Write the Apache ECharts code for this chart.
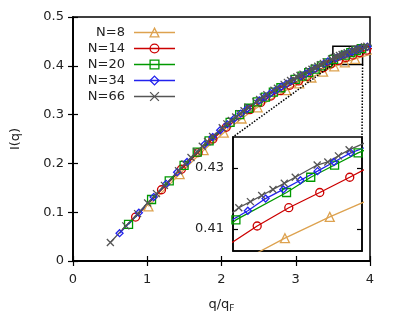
<!DOCTYPE html>
<html><head><meta charset="utf-8">
<script src="https://cdn.jsdelivr.net/npm/echarts@6/dist/echarts.min.js"></script>
<style>html,body{margin:0;padding:0;background:#fff}#c{width:395px;height:327px}</style>
</head><body><div id="c"></div>
<script>
// ---- data ----
const seriesNames = ['N=8', 'N=14', 'N=20', 'N=34', 'N=66'];

const q8  = [1.016,1.436,1.759,2.031,2.271,2.487,2.872,3.047,3.211,3.368,3.518,3.661,3.800,4.062];
const i8  = [0.112,0.178,0.227,0.263,0.292,0.315,0.350,0.364,0.376,0.388,0.399,0.407,0.414,0.426];

const q14 = [0.843,1.192,1.460,1.685,1.884,2.064,2.383,2.528,2.665,2.795,2.919,3.038,3.153,3.371,3.474,3.575,3.673,3.769,3.862,3.953,4.128];
const i14 = [0.090,0.146,0.188,0.222,0.250,0.274,0.310,0.325,0.338,0.349,0.360,0.369,0.378,0.396,0.404,0.411,0.417,0.422,0.427,0.432,0.440];

const q20 = [0.748,1.058,1.296,1.496,1.673,1.833,2.116,2.245,2.366,2.482,2.592,2.698,2.800,2.993,3.085,3.174,3.261,3.346,3.429,3.509,3.666,3.741,3.815,3.888,4.029];
const i20 = [0.075,0.126,0.164,0.196,0.223,0.246,0.284,0.300,0.313,0.326,0.336,0.346,0.355,0.372,0.379,0.386,0.393,0.400,0.406,0.413,0.422,0.427,0.431,0.435,0.441];

const q34 = [0.627,0.887,1.086,1.254,1.402,1.536,1.773,1.881,1.982,2.079,2.172,2.260,2.346,2.508,2.585,2.660,2.733,2.804,2.873,2.941,3.071,3.135,3.197,3.258,3.376,3.434,3.546,3.601,3.656,3.709,3.762,3.813,3.865,3.965,4.014];
const i34 = [0.057,0.099,0.131,0.158,0.182,0.203,0.239,0.254,0.268,0.280,0.292,0.302,0.312,0.329,0.336,0.344,0.350,0.357,0.363,0.369,0.379,0.384,0.389,0.394,0.404,0.409,0.416,0.420,0.423,0.426,0.429,0.432,0.435,0.439,0.442];

const q66 = [0.503,0.711,0.870,1.005,1.124,1.231,1.421,1.508,1.589,1.667,1.741,1.812,1.880,2.010,2.072,2.132,2.191,2.248,2.303,2.357,2.462,2.513,2.563,2.611,2.706,2.753,2.843,2.887,2.930,2.973,3.015,3.057,3.098,3.178,3.218,3.257,3.296,3.334,3.371,3.409,3.482,3.518,3.554,3.589,3.624,3.659,3.693,3.761,3.794,3.827,3.860,3.925,3.957,4.020];
const i66 = [0.038,0.072,0.097,0.119,0.138,0.155,0.185,0.199,0.212,0.224,0.235,0.245,0.255,0.273,0.281,0.288,0.295,0.302,0.308,0.315,0.326,0.331,0.336,0.341,0.350,0.354,0.362,0.366,0.370,0.373,0.377,0.380,0.383,0.390,0.393,0.396,0.399,0.402,0.405,0.408,0.414,0.417,0.419,0.421,0.423,0.425,0.427,0.431,0.432,0.434,0.436,0.439,0.440,0.443];

const xRange = [0, 4];
const yRange = [0, 0.5];
const insetXRange = [3.5, 3.9];
const insetYRange = [0.4028, 0.4402];
const insetYTicks = [0.41, 0.43];

// ---- styling ----
const FONT = 'DejaVu Sans';
const colors = ['#dda24f', '#cc0000', '#009900', '#2222ee', '#555555'];
const symbols = ['triangle', 'circle', 'rect', 'diamond', 'path://M0,0L10,10M0,10L10,0'];
const sizes = [9, 8, 8, 7, 7];

const qs = [q8, q14, q20, q34, q66];
const is = [i8, i14, i20, i34, i66];

const INSET = {left: 233, top: 137, width: 129, height: 114};

function pairs(q, v) { return q.map((x, k) => [x, v[k]]); }

const series = [];
[0, 1].forEach(function (g) {
  seriesNames.forEach(function (name, k) {
    const s = {
      type: 'line', name: name,
      data: pairs(qs[k], is[k]),
      xAxisIndex: g === 0 ? 0 : 2,
      yAxisIndex: g === 0 ? 0 : 2,
      symbol: symbols[k], symbolSize: sizes[k],
      showSymbol: true,
      lineStyle: {color: colors[k], width: 1.3},
      itemStyle: {color: 'rgba(0,0,0,0)', borderColor: colors[k], borderWidth: 1.3},
      emphasis: {disabled: true},
      animation: false,
      z: g === 0 ? 2 : 8
    };
    if (g === 0 && k === 4) {
      s.markArea = {
        silent: true,
        itemStyle: {color: 'rgba(0,0,0,0)', borderColor: '#000', borderWidth: 1.5},
        data: [[{coord: [insetXRange[0], insetYRange[1]]}, {coord: [insetXRange[1], insetYRange[0]]}]]
      };
      s.markLine = {
        silent: true, symbol: ['none', 'none'], label: {show: false},
        lineStyle: {type: 'dotted', color: '#000', width: 1.5},
        data: [
          [{coord: [insetXRange[0], insetYRange[0]]}, {x: INSET.left, y: INSET.top}],
          [{coord: [insetXRange[1], insetYRange[0]]}, {x: INSET.left + INSET.width, y: INSET.top}]
        ]
      };
    }
    series.push(s);
  });
});

const axisLine = {show: true, lineStyle: {color: '#000', width: 1.5}};
const tick = {show: true, inside: true, length: 5, lineStyle: {color: '#000', width: 1.2}};
const label = {color: '#222', fontSize: 13, fontFamily: FONT};

const option = {
  animation: false,
  backgroundColor: '#fff',
  grid: [
    {left: 73, top: 17, width: 297, height: 244, show: true, borderColor: '#000', borderWidth: 1.5, backgroundColor: 'rgba(0,0,0,0)'},
    {left: INSET.left, top: INSET.top, width: INSET.width, height: INSET.height, show: true,
     backgroundColor: '#fff', borderColor: '#000', borderWidth: 1.5, z: 5}
  ],
  legend: {
    data: seriesNames, orient: 'vertical', left: 85, top: 26, align: 'right', padding: 0,
    itemWidth: 41, itemHeight: 11, itemGap: 3,
    selectedMode: false,
    textStyle: {fontSize: 13, color: '#222', fontFamily: FONT, width: 40, align: 'right', lineHeight: 12, padding: [0, 4, 0, 0]},
    itemStyle: {borderWidth: 1.3},
    lineStyle: {width: 1.3}
  },
  xAxis: [
    {gridIndex: 0, type: 'value', min: xRange[0], max: xRange[1], interval: 1, position: 'bottom',
     axisLine: axisLine, axisTick: tick, splitLine: {show: false},
     axisLabel: Object.assign({margin: 12}, label),
     name: '{n|q/q}{sub|F}', nameLocation: 'middle', nameGap: 35,
     nameTextStyle: {color: '#222', fontSize: 13, fontFamily: FONT,
       rich: {n: {fontSize: 13, fontFamily: FONT, color: '#222'},
              sub: {fontSize: 9, fontFamily: FONT, color: '#222', padding: [8, 0, 0, 0]}}}},
    {gridIndex: 0, type: 'value', min: xRange[0], max: xRange[1], interval: 1, position: 'top',
     axisLine: axisLine, axisTick: tick, splitLine: {show: false}, axisLabel: {show: false}},
    {gridIndex: 1, type: 'value', min: insetXRange[0], max: insetXRange[1], position: 'bottom', z: 6,
     axisLine: axisLine, axisTick: {show: false}, splitLine: {show: false}, axisLabel: {show: false}}
  ],
  yAxis: [
    {gridIndex: 0, type: 'value', min: yRange[0], max: yRange[1], interval: 0.1, position: 'left',
     axisLine: axisLine, axisTick: tick, splitLine: {show: false},
     axisLabel: Object.assign({margin: 9}, label),
     name: 'I(q)', nameLocation: 'middle', nameGap: 51, nameRotate: 90,
     nameTextStyle: {color: '#222', fontSize: 13, fontFamily: FONT}},
    {gridIndex: 0, type: 'value', min: yRange[0], max: yRange[1], interval: 0.1, position: 'right',
     axisLine: axisLine, axisTick: tick, splitLine: {show: false}, axisLabel: {show: false}},
    {gridIndex: 1, type: 'value', min: insetYRange[0], max: insetYRange[1], position: 'left', z: 6,
     axisLine: axisLine, axisTick: Object.assign({customValues: insetYTicks}, tick), splitLine: {show: false},
     axisLabel: Object.assign({margin: 9, customValues: insetYTicks, formatter: v => v.toFixed(2)}, label)},
    {gridIndex: 1, type: 'value', min: insetYRange[0], max: insetYRange[1], position: 'right', z: 6,
     axisLine: axisLine, axisTick: Object.assign({customValues: insetYTicks}, tick), splitLine: {show: false},
     axisLabel: {show: false}}
  ],
  series: series
};

const chart = echarts.init(document.getElementById('c'), null, {renderer: 'canvas'});
chart.setOption(option);
</script>
</body></html>
